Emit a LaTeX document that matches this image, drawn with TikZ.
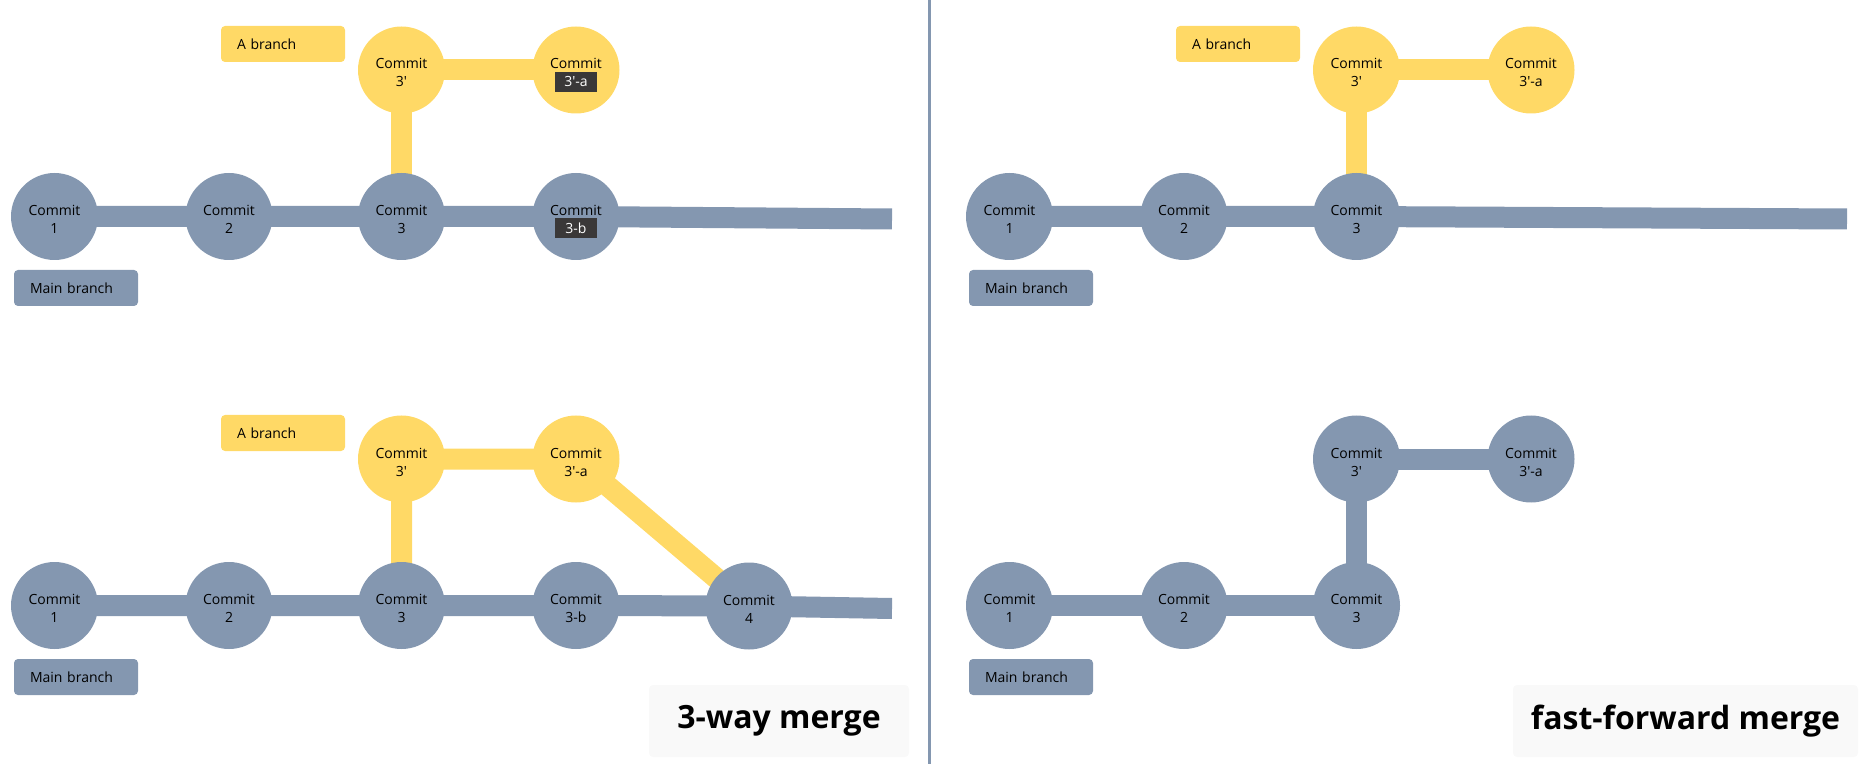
\documentclass[tikz,border=0pt]{standalone}
\usepackage{fontspec}
\setmainfont{Open Sans}
\usetikzlibrary{backgrounds}
\definecolor{main-branch}{HTML}{8497B0}
\definecolor{a-branch}{HTML}{FFD966}
\definecolor{tag-box}{HTML}{3A3838}
\definecolor{title-box}{HTML}{F9F9F9}
\newcommand{\tagbox}[1]{{\setlength{\fboxsep}{0pt}\colorbox{tag-box}{\makebox[21pt]{\rule[-2.5pt]{0pt}{10pt}\color{white}#1}}}}
\newcommand{\commitlabel}[1]{\rule{0pt}{10.5pt}Commit\\\rule[-2.5pt]{0pt}{0pt}#1}

\tikzset{
	commit/.style={circle,inner sep=0pt,minimum size=43.5pt,align=center,font=\fontsize{7}{9}\selectfont},
	main commit/.style={commit,fill=main-branch},
	a commit/.style={commit,fill=a-branch},
	branch label/.style={rounded corners=2pt,text width=46pt,inner xsep=8pt,minimum height=18pt,align=left,font=\fontsize{7}{9}\selectfont},
	main link/.style={draw=main-branch,line width=10.5pt},
	a link/.style={draw=a-branch,line width=10.5pt},
	merge title/.style={fill=title-box,rounded corners=2pt,minimum height=36pt,font=\fontsize{16}{20}\selectfont\bfseries},
}

\begin{document}
\begin{tikzpicture}[x=0.5pt,y=-0.5pt]
	\useasboundingbox (0,0) rectangle (1868,764);
	% before the merge
	\begin{scope}
	\node[main commit] (a1) at (54.5,216.5) {\commitlabel{1}};
	\node[main commit] (a2) at (229,216.5) {\commitlabel{2}};
	\node[main commit] (a3) at (401.5,216.5) {\commitlabel{3}};
	\node[main commit] (a3b) at (576,216.5) {\commitlabel{\tagbox{3-b}}};
	\node[a commit] (a3p) at (401.5,70) {\commitlabel{3′}};
	\node[a commit] (a3pa) at (576,70) {\commitlabel{\tagbox{3′-a}}};
	\coordinate (aend) at (892,219);
	\node[branch label,fill=a-branch] (abranch) at (283,44) {A branch};
	\node[branch label,fill=main-branch] (amain) at (76,288) {Main branch};
	\begin{scope}[on background layer]
		\draw[main link] (a1.center) -- (a2.center) -- (a3.center) -- (a3b.center) -- (aend);
		\draw[a link] (a3.center) -- (a3p.center) -- (a3pa.center);
	\end{scope}
	\end{scope}
	% 3-way merge
	\begin{scope}[shift={(0,389)}]
	\node[main commit] (b1) at (54.5,216.5) {\commitlabel{1}};
	\node[main commit] (b2) at (229,216.5) {\commitlabel{2}};
	\node[main commit] (b3) at (401.5,216.5) {\commitlabel{3}};
	\node[main commit] (b3b) at (576,216.5) {\commitlabel{3-b}};
	\node[main commit] (b4) at (749,217) {\commitlabel{4}};
	\node[a commit] (b3p) at (401.5,70) {\commitlabel{3′}};
	\node[a commit] (b3pa) at (576,70) {\commitlabel{3′-a}};
	\coordinate (bend) at (892,219.5);
	\node[branch label,fill=a-branch] (bbranch) at (283,44) {A branch};
	\node[branch label,fill=main-branch] (bmain) at (76,288) {Main branch};
	\begin{scope}[on background layer]
		\draw[main link] (b1.center) -- (b2.center) -- (b3.center) -- (b3b.center) -- (b4.center) -- (bend);
		\draw[a link] (b3.center) -- (b3p.center) -- (b3pa.center) -- (b4.center);
	\end{scope}
	\end{scope}
	% before the fast-forward
	\begin{scope}[shift={(955,0)}]
	\node[main commit] (c1) at (54.5,216.5) {\commitlabel{1}};
	\node[main commit] (c2) at (229,216.5) {\commitlabel{2}};
	\node[main commit] (c3) at (401.5,216.5) {\commitlabel{3}};
	\node[a commit] (c3p) at (401.5,70) {\commitlabel{3′}};
	\node[a commit] (c3pa) at (576,70) {\commitlabel{3′-a}};
	\coordinate (cend) at (892,219);
	\node[branch label,fill=a-branch] (cbranch) at (283,44) {A branch};
	\node[branch label,fill=main-branch] (cmain) at (76,288) {Main branch};
	\begin{scope}[on background layer]
		\draw[main link] (c1.center) -- (c2.center) -- (c3.center) -- (cend);
		\draw[a link] (c3.center) -- (c3p.center) -- (c3pa.center);
	\end{scope}
	\end{scope}
	% fast-forward merge
	\begin{scope}[shift={(955,389)}]
	\node[main commit] (d1) at (54.5,216.5) {\commitlabel{1}};
	\node[main commit] (d2) at (229,216.5) {\commitlabel{2}};
	\node[main commit] (d3) at (401.5,216.5) {\commitlabel{3}};
	\node[main commit] (d3p) at (401.5,70) {\commitlabel{3′}};
	\node[main commit] (d3pa) at (576,70) {\commitlabel{3′-a}};
	\node[branch label,fill=main-branch] (dmain) at (76,288) {Main branch};
	\begin{scope}[on background layer]
		\draw[main link] (d1.center) -- (d2.center) -- (d3.center) -- (d3p.center) -- (d3pa.center);
	\end{scope}
	\end{scope}
	\coordinate (divtop) at (929,0);
	\coordinate (divbot) at (929,764);
	\draw[main-branch,line width=1.5pt] (divtop) -- (divbot);
	\node[merge title,minimum width=130pt] (way3) at (779,721) {3-way merge};
	\node[merge title,minimum width=172.5pt] (ffwd) at (1685.5,721) {fast-forward merge};
\end{tikzpicture}
\end{document}
